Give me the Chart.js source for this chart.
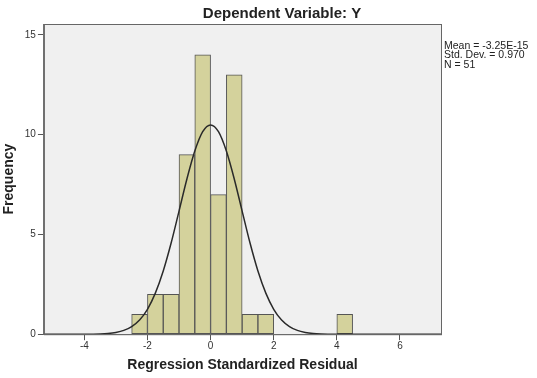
<!DOCTYPE html>
<html>
<head>
<meta charset="utf-8">
<script src="https://cdn.jsdelivr.net/npm/chart.js@4.4.1/dist/chart.umd.min.js"></script>
<style>
    html, body { margin: 0; padding: 0; background: #fff; }
    #wrap { width: 537px; height: 378px; position: relative; }
</style>
</head>
<body>
<div id="wrap"><canvas id="chart"></canvas></div>
<script>
// histogram bins (centre of each 0.5-wide bin) and frequencies
const binCenters = [-2.25, -1.75, -1.25, -0.75, -0.25, 0.25, 0.75, 1.25, 1.75, 4.25];
const binCounts  = [1, 2, 2, 9, 14, 7, 13, 1, 1, 1];

// normal curve
const curveX = [-5.3, -4.5, -4, -3.5, -3.25, -3, -2.75, -2.5, -2.25, -2, -1.75, -1.5, -1.25, -1, -0.75, -0.5, -0.25,
                0, 0.25, 0.5, 0.75, 1, 1.25, 1.5, 1.75, 2, 2.25, 2.5, 2.75, 3, 3.25, 3.5, 4, 4.5, 5.5, 7.3];
const curveY = [0, 0, 0.002, 0.016, 0.038, 0.09, 0.19, 0.38, 0.71, 1.25, 2.06, 3.17, 4.57, 6.17, 7.78, 9.18, 10.15,
                10.49, 10.15, 9.18, 7.78, 6.17, 4.57, 3.17, 2.06, 1.25, 0.71, 0.38, 0.19, 0.09, 0.038, 0.016, 0.002, 0, 0, 0];

const xTicks = [-4, -2, 0, 2, 4, 6];
const yTicks = [0, 5, 10, 15];

const titleText = 'Dependent Variable: Y';
const statsText = ['Mean = -3.25E-15', 'Std. Dev. = 0.970', 'N = 51'];

const FONT = '"Liberation Sans", Arial, sans-serif';

// plot background, frame, title and the stats box
const decorations = {
    id: 'decorations',
    beforeDatasetsDraw(chart) {
        const { ctx, chartArea: a } = chart;
        ctx.save();
        ctx.fillStyle = '#f0f0f0';
        ctx.fillRect(a.left, a.top, a.right - a.left, a.bottom - a.top);
        ctx.restore();
    },
    afterDraw(chart) {
        const { ctx, chartArea: a } = chart;
        ctx.save();
        ctx.strokeStyle = '#666';
        ctx.lineWidth = 1;
        ctx.strokeRect(a.left + 0.5, a.top + 0.5, a.right - a.left, a.bottom - a.top);

        ctx.fillStyle = '#222';
        ctx.font = 'bold 15px ' + FONT;
        ctx.textAlign = 'center';
        ctx.textBaseline = 'middle';
        ctx.fillText(titleText, 282, 14);

        ctx.font = '10.5px ' + FONT;
        ctx.textAlign = 'left';
        ctx.fillStyle = '#222';
        statsText.forEach((t, i) => ctx.fillText(t, a.right + 3, 46 + i * 9.6));
        ctx.restore();
    }
};

new Chart(document.getElementById('chart'), {
    type: 'bar',
    data: {
        datasets: [
            {
                type: 'line',
                data: curveX.map((x, i) => ({ x, y: curveY[i] })),
                borderColor: '#2a2a2a',
                borderWidth: 1.5,
                pointRadius: 0,
                cubicInterpolationMode: 'monotone',
                order: 0
            },
            {
                type: 'bar',
                data: binCenters.map((x, i) => ({ x, y: binCounts[i] })),
                backgroundColor: '#d4d29c',
                borderColor: '#555',
                borderWidth: 1,
                borderSkipped: false,
                barPercentage: 1,
                categoryPercentage: 1,
                order: 1
            }
        ]
    },
    plugins: [decorations],
    options: {
        responsive: true,
        maintainAspectRatio: false,
        animation: false,
        layout: { padding: { left: 1, right: 96, top: 24, bottom: 4 } },
        plugins: {
            legend: { display: false },
            tooltip: { enabled: false }
        },
        scales: {
            x: {
                type: 'linear',
                min: -5.28,
                max: 7.3,
                offset: false,
                afterBuildTicks: s => { s.ticks = xTicks.map(v => ({ value: v })); },
                grid: { drawOnChartArea: false, drawTicks: true, tickLength: 6, tickColor: '#555', offset: false },
                border: { display: true, color: '#666' },
                ticks: { color: '#333', font: { family: FONT, size: 10 }, padding: 0, maxRotation: 0 },
                title: {
                    display: true,
                    text: 'Regression Standardized Residual',
                    color: '#222',
                    font: { family: FONT, size: 14, weight: 'bold' },
                    padding: { top: 5, bottom: 0 }
                }
            },
            y: {
                min: 0,
                max: 15.55,
                afterBuildTicks: s => { s.ticks = yTicks.map(v => ({ value: v })); },
                grid: { drawOnChartArea: false, drawTicks: true, tickLength: 6, tickColor: '#555' },
                border: { display: true, color: '#666' },
                ticks: { color: '#333', font: { family: FONT, size: 10 }, padding: 2 },
                title: {
                    display: true,
                    text: 'Frequency',
                    color: '#222',
                    font: { family: FONT, size: 14, weight: 'bold' },
                    padding: { top: 0, bottom: 5 }
                }
            }
        }
    }
});
</script>
</body>
</html>
